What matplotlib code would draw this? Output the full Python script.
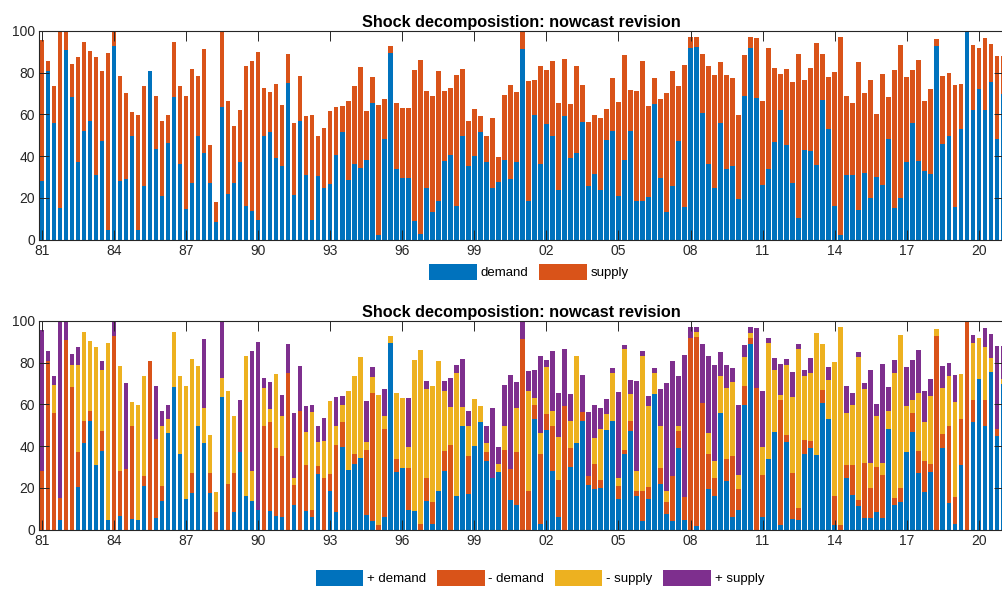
import numpy as np
import matplotlib
matplotlib.use("Agg")
import matplotlib.pyplot as plt

# quarterly observations 1981Q1 .. 2021Q1
pos_demand = [0,0,0,4.5,0,0,20.4,41.7,52,31,37.8,4.5,0,6.4,0,5,4.5,20.7,0,5.6,
              13.8,46.5,68.4,36.2,14.7,17.3,49.7,41.7,17.6,0,63.5,0,8.3,37.2,16,13.8,9.3,0,9,6.4,
              5.9,0,11.7,0,8.8,6.1,26.4,0,18.6,8.5,39.7,28.5,31.2,34.3,6.9,4.2,0,5.9,89.4,27.7,
              29.5,9.3,8.7,0,13.8,2.6,18.4,28.2,0,16,49.7,17.1,40.2,51.6,33,24.7,27.6,0,14.1,11.9,
              0,0,53.2,2.6,47.8,28.2,6.1,0,30.1,41.7,52.1,21.3,19.6,20,47.8,52.2,14.4,36.2,47.4,16,
              4.2,14.7,64.9,22,7.5,4.2,39.3,4.6,0,1.8,0,19.6,16,55.8,23.4,6.1,9.3,59.8,89.1,0,
              6.1,33.8,47,2.1,42.1,5.1,4.6,36.2,38.9,35.7,60.9,52.9,2.1,0,24.7,16.5,11.2,5.3,5.3,8.5,
              5.3,48.2,11.7,13,37.2,46.6,27.2,17.9,27.6,0,38.9,12.8,2.4,30.9,0,51.4,72.1,49.7,75.6,45,
              69.9]
neg_demand = [28,81,56,10.7,90.7,68.4,16.8,10.3,5,0,9.6,0,93,21.6,29,44.7,0,4.9,81,37.8,
              7,0,0,0,0,9.6,0,0,9.3,8.3,0,21.8,18.6,0,0,0,0,49.7,42.6,32.5,
              29.4,75.2,9.6,56.9,22.1,3.2,4,24.7,7.8,32,11.9,0,5,0,31.2,61.5,2.1,42.2,0,6.3,
              0,20.2,0,2.6,10.9,10.4,0,9.6,40.5,0,0,18.2,0,0,4.2,0,0,38.1,15.1,25.3,
              91.5,18.4,6.6,33.6,7.8,21.5,17.5,59,8.8,0,4.3,4.2,11.8,3.6,0,0,6.3,2.1,4.7,2.4,
              14.2,5.5,0,7.5,5.5,21.4,8,10.9,92,90.5,60.9,16.6,8.7,0,10.4,29.2,10.3,8.8,2.6,67.8,
              20,0,0,59.8,3.3,22,5.5,6.7,3.7,0,5.8,0,13.9,2.1,6.2,14.4,2.9,26.8,14.7,21.3,
              20.8,0,3.4,7,0,9.5,10.3,15.1,3.8,92.6,7.1,36.9,13.1,22,100,10.6,0,12.3,0,3.2,
              0]
neg_supply = [0,0,13.4,0,0,10.6,41.8,42.7,33.5,56.5,28.9,84.9,0,50.5,0,11.3,55.3,48.1,0,0,
              29,6.5,26.3,37.5,54.3,55.1,28.8,16.5,18.5,9.5,9.1,44.7,27.6,0,67.3,14.4,0,18.4,6.3,35.9,
              19.3,0,3.2,0,15.7,47.1,11.7,17.9,35,9.2,8.2,38,37.4,48.2,4,7.4,62.5,6.4,3.4,31.4,
              33.6,10.2,72.4,83.5,42.9,55.9,62.4,28.7,18.3,59.2,9.1,14.4,22.6,7.5,4.5,0,3.8,11.6,0,21,
              0,48.1,3.5,10.3,22.1,7.2,21,0,13.2,41.6,0,0,12.4,24.5,7.6,23,4.1,48.1,13,9.6,
              64.9,38.8,10.3,20.2,5.4,0,2.4,0,0,2.4,0,10.3,8.3,17.6,34.3,35.4,6.5,14.3,2.7,0,
              13.6,55.8,29.6,2.5,33.4,36.4,76.4,30.5,32.4,58.7,22.2,18.7,64.4,95,25,28.7,68.4,35.4,12.1,24.7,
              6,8.7,60.1,73.1,21.9,6.1,28,18.6,32.4,3.4,21.8,23.7,45.6,21.9,0,27.6,19.7,25.7,6.5,0,
              2.4]
pos_supply = [67.5,4.7,4.3,84.8,9.3,5,8.5,0,0,0,4.7,0,7,0,41.5,0,0,0,0,25.6,
              7.2,6.8,0,0,0,0,0,33.3,0,0,27.4,0,0,25.1,0,57.5,80.6,4.7,12.9,0,
              9.8,13.7,31.6,21.5,12.7,3.4,7.7,10.8,0,13.8,4,0,0,0,19.3,4.8,0,13.1,0,0,
              0,23.4,0,0,3.7,0,0,4.8,13.8,3.8,22.9,7.2,0,0,8,33.5,8.2,19.5,44.7,12.5,
              8.5,9.6,13.3,36.8,3.7,28.8,20.8,27.4,13,0,17.5,30.9,16.1,10.4,7.4,2.4,41.1,2.2,6.5,43.3,
              2.4,5.1,2.4,17.8,51.8,55.3,24,68.3,5.3,2.6,28,36.8,46,11.9,10.7,6.7,33.7,5.7,2.9,28.8,
              26.8,2.4,5.8,14.9,2.9,12.1,2.6,3.2,7.1,0,0,6.4,0,0,12.9,5.9,2.8,3,44.2,5.9,
              47.2,11.5,6.1,0,18.9,19.1,20.7,14.9,8.2,0,10.7,6.4,12.9,0,0,3.5,0,9.1,11.7,39.6,
              15.5]
tick_labels = ["81", "84", "87", "90", "93", "96", "99", "02", "05", "08", "11", "14", "17", "20"]

title = "Shock decomposistion: nowcast revision"
c_blue, c_orange, c_yellow, c_purple = "#0072BD", "#D95319", "#EDB120", "#7E2F8E"

pd_ = np.array(pos_demand, float)
nd_ = np.array(neg_demand, float)
ns_ = np.array(neg_supply, float)
ps_ = np.array(pos_supply, float)
demand = pd_ + nd_
supply = ns_ + ps_
x = np.arange(len(pd_))

plt.rcParams['font.family'] = ['Liberation Sans', 'DejaVu Sans']
fig = plt.figure(figsize=(10.03, 5.90), dpi=100)
W, H = 1003.0, 590.0
ax1 = fig.add_axes([39 / W, 1 - 239.5 / H, (1004 - 39) / W, 208.5 / H])
ax2 = fig.add_axes([39 / W, 1 - 529.5 / H, (1004 - 39) / W, 208.5 / H])

bw = 0.75
b1 = ax1.bar(x, demand, bw, color=c_blue, linewidth=0, label="demand")
b2 = ax1.bar(x, supply, bw, bottom=demand, color=c_orange, linewidth=0, label="supply")

bottom = np.zeros_like(pd_)
handles2 = []
for vals, col, lab in [(pd_, c_blue, "+ demand"), (nd_, c_orange, "- demand"),
                       (ns_, c_yellow, "- supply"), (ps_, c_purple, "+ supply")]:
    h = ax2.bar(x, vals, bw, bottom=bottom, color=col, linewidth=0, label=lab)
    handles2.append(h)
    bottom = bottom + vals

tick_pos = np.arange(0, len(tick_labels) * 12, 12)
for ax in (ax1, ax2):
    ax.set_xlim(-0.5, 160.2)
    ax.set_ylim(0, 100)
    ax.set_yticks([0, 20, 40, 60, 80, 100])
    ax.set_xticks(tick_pos)
    ax.set_xticklabels(tick_labels)
    ax.tick_params(direction='in', length=7, width=0.7, colors='#262626',
                   labelsize=10, top=True, right=True, pad=3)
    for sp in ax.spines.values():
        sp.set_color('#262626')
        sp.set_linewidth(0.8)
    ax.set_title(title, fontsize=11.7, fontweight='bold', pad=3)

fig.legend(handles=[b1, b2], loc='center', bbox_to_anchor=(529 / W, 1 - 272 / H),
           ncol=2, frameon=False, fontsize=9.5, handlelength=3.6, handleheight=1.4,
           columnspacing=0.8, handletextpad=0.3, borderpad=0.2)
fig.legend(handles=handles2, loc='center', bbox_to_anchor=(540 / W, 1 - 578 / H),
           ncol=4, frameon=False, fontsize=9.5, handlelength=3.6, handleheight=1.4,
           columnspacing=0.8, handletextpad=0.3, borderpad=0.2)

fig.savefig("out.png", dpi=100)
